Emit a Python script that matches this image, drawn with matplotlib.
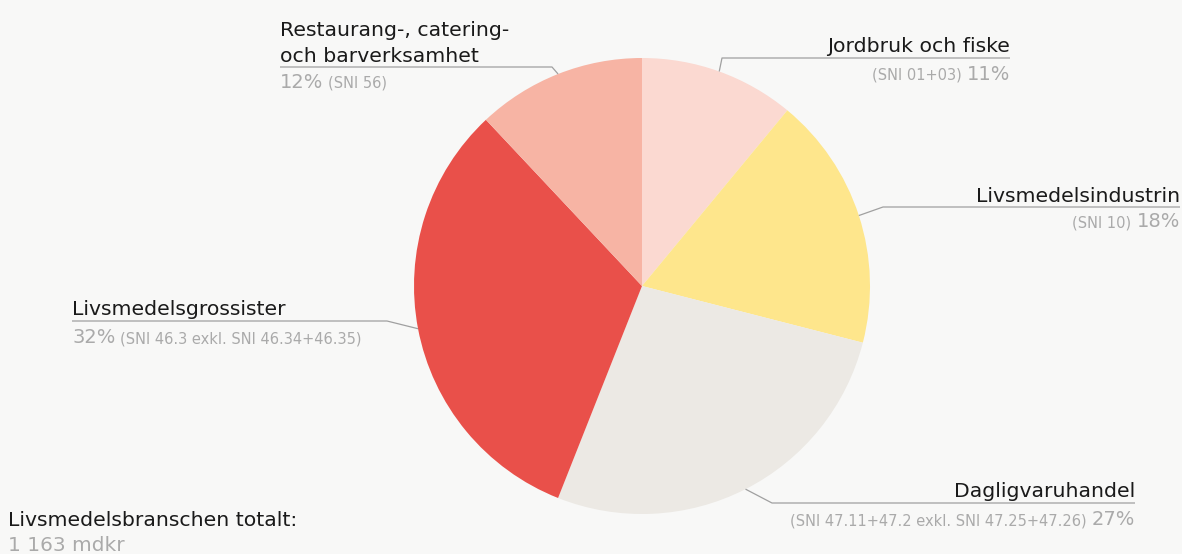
import numpy as np
import matplotlib
matplotlib.use("Agg")
import matplotlib.pyplot as plt

categories = ["Jordbruk och fiske", "Livsmedelsindustrin", "Dagligvaruhandel",
              "Livsmedelsgrossister", "Restaurang-, catering-\noch barverksamhet"]
shares = [11, 18, 27, 32, 12]
sni = ["(SNI 01+03)", "(SNI 10)", "(SNI 47.11+47.2 exkl. SNI 47.25+47.26)",
       "(SNI 46.3 exkl. SNI 46.34+46.35)", "(SNI 56)"]
colors = ["#FBD9D1", "#FEE68C", "#ECE9E4", "#E9504A", "#F7B4A4"]
total_label = "Livsmedelsbranschen totalt:"
total_value = "1 163 mdkr"

W, H = 1182, 554
BG = "#F8F8F7"
FONT = ["DejaVu Sans"]
DARK = "#1A1A1A"
GREY = "#AAAAAA"
LINE = "#A0A0A0"
TITLE_FS = 14.7
PCT_FS = 14
SNI_FS = 10.5

fig = plt.figure(figsize=(W / 100, H / 100), dpi=100, facecolor=BG)
ax = fig.add_axes([0, 0, 1, 1])

cx, cy, R = 642, H - 286, 228
wedges, _ = ax.pie(shares, colors=colors, startangle=90, counterclock=False,
                   center=(cx, cy), radius=R, frame=True,
                   wedgeprops=dict(linewidth=0))
ax.set_xlim(0, W)
ax.set_ylim(0, H)
ax.set_aspect("equal")
ax.axis("off")

def Y(yp):
    return H - yp

# label layout: (side, text x, title baseline, line y, elbow x, value baseline)
layout = [
    ("right", 1010, 52, 58, 722, 80),
    ("right", 1180, 202, 207, 883, 227),
    ("right", 1135, 497, 503, 772, 525),
    ("left", 72, 315, 321, 387, 343),
    ("left", 280, 62, 67, 552, 88),
]

fig.canvas.draw()
renderer = fig.canvas.get_renderer()

def text_width(t):
    return t.get_window_extent(renderer=renderer).width

for w, (side, tx, tb, ly, ex, vb), cat, s, code in zip(wedges, layout, categories, shares, sni):
    mid = np.deg2rad((w.theta1 + w.theta2) / 2)
    px, py = cx + R * np.cos(mid), cy + R * np.sin(mid)
    ax.plot([px, ex, tx], [py, Y(ly), Y(ly)], color=LINE, lw=0.9, solid_capstyle="butt")
    lines = cat.split("\n")
    for i, ln in enumerate(reversed(lines)):
        ax.text(tx, Y(tb) + i * 26, ln, ha=side, va="baseline", fontsize=TITLE_FS,
                color=DARK, family=FONT)
    pct = ax.text(tx, Y(vb), f"{s}%", ha=side, va="baseline", fontsize=PCT_FS,
                  color=GREY, family=FONT)
    wpx = text_width(pct)
    if side == "right":
        ax.text(tx - wpx - 5, Y(vb), code, ha="right", va="baseline", fontsize=SNI_FS,
                color=GREY, family=FONT)
    else:
        ax.text(tx + wpx + 5, Y(vb), code, ha="left", va="baseline", fontsize=SNI_FS,
                color=GREY, family=FONT)

ax.text(8, Y(526), total_label, ha="left", va="baseline", fontsize=TITLE_FS, color=DARK, family=FONT)
ax.text(8, Y(551), total_value, ha="left", va="baseline", fontsize=14.5, color=GREY, family=FONT)

fig.savefig("out.png", dpi=100, facecolor=BG)
